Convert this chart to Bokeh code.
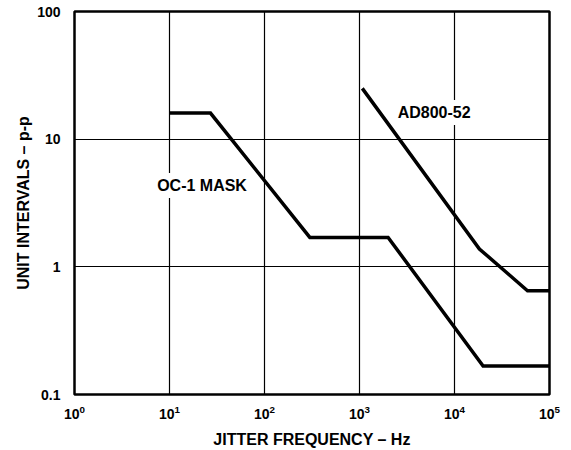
from bokeh.plotting import figure
from bokeh.models import FixedTicker, Label, LogTickFormatter
from bokeh.embed import file_html
from bokeh.resources import INLINE

# ---- data ----
oc1_freq = [10, 27, 300, 2000, 20000, 100000]
oc1_ui = [16, 16, 1.7, 1.7, 0.167, 0.167]

ad_freq = [1070, 18300, 58700, 100000]
ad_ui = [25, 1.38, 0.65, 0.65]

x_ticks = [1, 10, 100, 1000, 10000, 100000]

y_ticks = [0.1, 1, 10, 100]
y_tick_labels = ["0.1", "1", "10", "100"]

FONT = "Liberation Sans"

p = figure(width=571, height=450, x_axis_type="log", y_axis_type="log",
           x_range=(1, 100000), y_range=(0.1, 100),
           output_backend="svg", toolbar_location=None,
           min_border_left=74, min_border_right=22,
           min_border_top=11, min_border_bottom=56)

p.background_fill_color = "white"
p.border_fill_color = "white"
p.outline_line_color = "black"
p.outline_line_width = 2.5

# axes
p.xaxis.ticker = FixedTicker(ticks=x_ticks, minor_ticks=[])
p.yaxis.ticker = FixedTicker(ticks=y_ticks, minor_ticks=[])
for ax in (p.xaxis, p.yaxis):
    ax.axis_line_color = None
    ax.major_tick_line_color = None
    ax.minor_tick_line_color = None
    ax.major_tick_out = 0
    ax.major_tick_in = 0
    ax.minor_tick_out = 0
    ax.minor_tick_in = 0
    ax.major_label_text_font = FONT
    ax.major_label_text_font_style = "bold"
    ax.major_label_text_font_size = "14px"
    ax.major_label_text_color = "black"
    ax.axis_label_text_font = FONT
    ax.axis_label_text_font_style = "bold"
    ax.axis_label_text_font_size = "16px"
    ax.axis_label_text_color = "black"

p.yaxis.major_label_overrides = {t: s for t, s in zip(y_ticks, y_tick_labels)}
p.yaxis.major_label_standoff = 14
p.yaxis.axis_label = "UNIT INTERVALS \u2013 p-p"
p.yaxis.axis_label_standoff = 2

p.xaxis.formatter = LogTickFormatter(min_exponent=0)
p.xaxis.major_label_standoff = 10
p.xaxis.axis_label = "JITTER FREQUENCY \u2013 Hz"
p.xaxis.axis_label_standoff = 9

# grid
for g in (p.xgrid, p.ygrid):
    g.grid_line_color = "black"
    g.grid_line_width = 1.2
    g.grid_line_alpha = 1.0
    g.minor_grid_line_color = None

# curves
p.line(oc1_freq, oc1_ui, line_width=3.5, line_color="black", line_join="miter")
p.line(ad_freq, ad_ui, line_width=3.5, line_color="black", line_join="miter")

# curve labels
p.add_layout(Label(x=22, y=4.33, text="OC-1 MASK", text_align="center",
                   text_baseline="middle", text_font=FONT, text_font_style="bold",
                   text_font_size="16px", text_color="black",
                   background_fill_color="white", padding=4))
p.add_layout(Label(x=6100, y=16.2, text="AD800-52", text_align="center",
                   text_baseline="middle", text_font=FONT, text_font_style="bold",
                   text_font_size="16px", text_color="black",
                   background_fill_color="white", padding=4))

open("out.html", "w").write(file_html(p, INLINE))
